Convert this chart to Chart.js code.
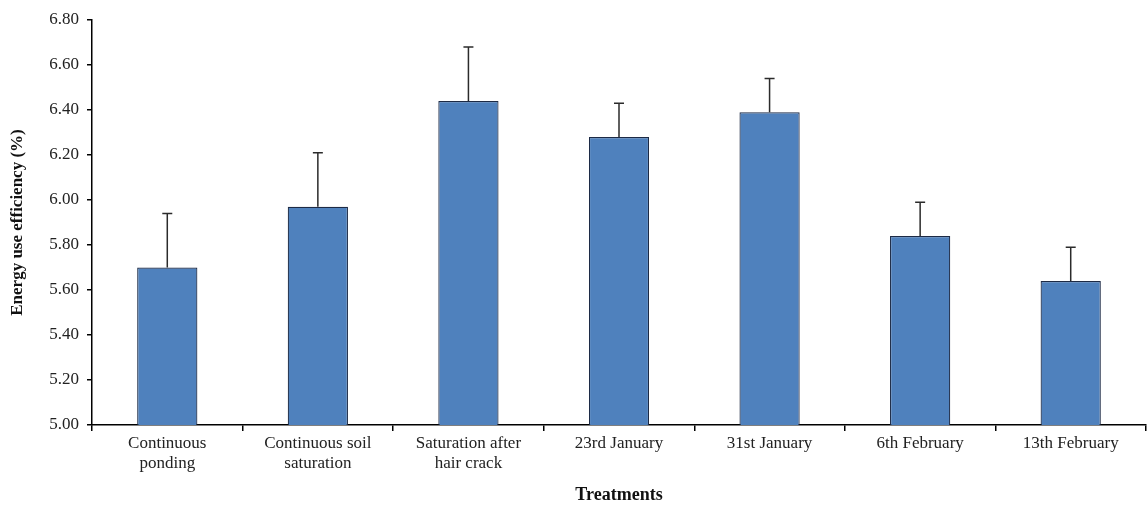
<!DOCTYPE html>
<html>
<head>
<meta charset="utf-8">
<script src="https://cdn.jsdelivr.net/npm/chart.js@4/dist/chart.umd.min.js"></script>
<style>
  html, body { margin: 0; padding: 0; background: #fff; }
  #wrap { width: 1148px; height: 506px; position: relative; }
</style>
</head>
<body>
<div id="wrap"><canvas id="c" width="1148" height="506"></canvas></div>
<script>
// Treatments and their mean energy use efficiency with standard errors
const categories = [
  ["Continuous", "ponding"],
  ["Continuous soil", "saturation"],
  ["Saturation after", "hair crack"],
  "23rd January",
  "31st January",
  "6th February",
  "13th February"
];
const efficiency = [5.70, 5.97, 6.44, 6.28, 6.39, 5.84, 5.64];
const errors = [0.24, 0.24, 0.24, 0.15, 0.15, 0.15, 0.15];
const yTicks = [5.00, 5.20, 5.40, 5.60, 5.80, 6.00, 6.20, 6.40, 6.60, 6.80];

const serif = "'Liberation Serif', 'Times New Roman', serif";

// Upper error whiskers drawn above each bar
const errorBars = {
  id: 'errorBars',
  afterDatasetsDraw(chart) {
    const ctx = chart.ctx;
    const y = chart.scales.y;
    const meta = chart.getDatasetMeta(0);
    ctx.save();
    ctx.strokeStyle = '#2b2b2b';
    ctx.lineWidth = 1.5;
    meta.data.forEach((bar, i) => {
      const top = y.getPixelForValue(efficiency[i] + errors[i]);
      ctx.beginPath();
      ctx.moveTo(bar.x, bar.y);
      ctx.lineTo(bar.x, top);
      ctx.moveTo(bar.x - 5, top);
      ctx.lineTo(bar.x + 5, top);
      ctx.stroke();
    });
    ctx.restore();
  }
};

new Chart(document.getElementById('c'), {
  type: 'bar',
  data: {
    labels: categories,
    datasets: [{
      data: efficiency,
      backgroundColor: '#4f81bd',
      borderColor: '#1c2a45',
      borderWidth: 1.2,
      categoryPercentage: 1.0,
      barPercentage: 0.4
    }]
  },
  options: {
    responsive: false,
    animation: false,
    layout: { padding: { left: 0, right: 2, top: 20, bottom: 0 } },
    plugins: {
      legend: { display: false },
      tooltip: { enabled: false }
    },
    scales: {
      x: {
        offset: true,
        grid: {
          offset: true,
          drawOnChartArea: false,
          drawTicks: true,
          tickLength: 6,
          color: '#000',
          lineWidth: 1.5
        },
        border: { color: '#000', width: 1.5 },
        ticks: {
          color: '#222',
          font: { family: serif, size: 17, lineHeight: 1.15 },
          padding: 3,
          maxRotation: 0,
          autoSkip: false
        },
        title: {
          display: true,
          text: 'Treatments',
          color: '#111',
          font: { family: serif, size: 18, weight: 'bold' },
          padding: { top: 10, bottom: 0 }
        },
        afterFit(scale) { scale.height = 81; }
      },
      y: {
        min: 5.0,
        max: 6.8,
        afterBuildTicks(scale) {
          scale.ticks = yTicks.map(v => ({ value: v }));
        },
        grid: {
          drawOnChartArea: false,
          drawTicks: true,
          tickLength: 5,
          color: '#000',
          lineWidth: 1.5
        },
        border: { color: '#000', width: 1.5 },
        ticks: {
          color: '#222',
          font: { family: serif, size: 17 },
          padding: 8,
          callback: v => Number(v).toFixed(2)
        },
        title: {
          display: true,
          text: 'Energy use efficiency (%)',
          color: '#111',
          font: { family: serif, size: 17, weight: 'bold' },
          padding: { top: 7, bottom: 4 }
        },
        afterFit(scale) { scale.width = 92; }
      }
    }
  },
  plugins: [errorBars]
});
</script>
</body>
</html>
